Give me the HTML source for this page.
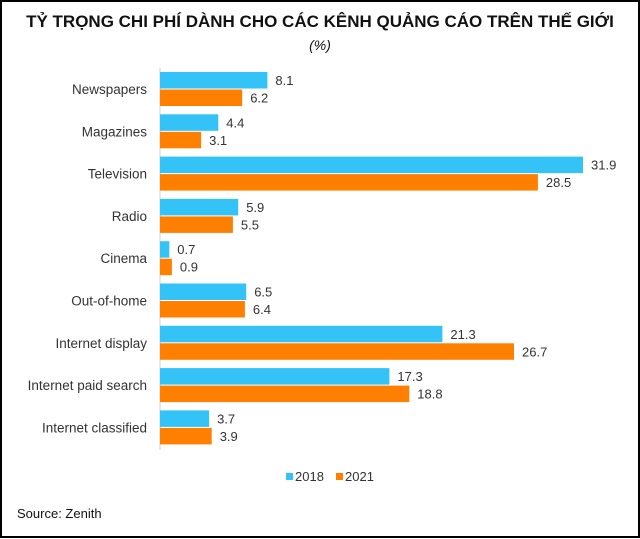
<!DOCTYPE html>
<html><head><meta charset="utf-8"><style>
body{margin:0;background:#fff}
svg{display:block}
text{font-family:"Liberation Sans",Arial,sans-serif}
</style></head><body>
<svg width="640" height="539" xmlns="http://www.w3.org/2000/svg">
<rect x="1" y="1" width="638" height="536" fill="#fff" stroke="#000" stroke-width="2"/>
<text x="320" y="27" text-anchor="middle" font-size="17" font-weight="bold" fill="#111">TỶ TRỌNG CHI PHÍ DÀNH CHO CÁC KÊNH QUẢNG CÁO TRÊN THẾ GIỚI</text>
<text x="320" y="50" text-anchor="middle" font-size="14" font-style="italic" fill="#111">(%)</text>
<line x1="160" y1="68" x2="160" y2="450" stroke="#d0d0d0" stroke-width="1"/>
<g fill="#33c3f6">
<rect x="160" y="72" width="107.4" height="16.5"/>
<rect x="160" y="114.3" width="58.3" height="16.5"/>
<rect x="160" y="156.6" width="423" height="16.5"/>
<rect x="160" y="198.9" width="78.2" height="16.5"/>
<rect x="160" y="241.2" width="9.3" height="16.5"/>
<rect x="160" y="283.5" width="86.2" height="16.5"/>
<rect x="160" y="325.8" width="282.4" height="16.5"/>
<rect x="160" y="368.1" width="229.4" height="16.5"/>
<rect x="160" y="410.4" width="49.1" height="16.5"/>
</g>
<g fill="#ff8000">
<rect x="160" y="89.5" width="82.2" height="16.5"/>
<rect x="160" y="131.8" width="41.1" height="16.5"/>
<rect x="160" y="174.1" width="377.9" height="16.5"/>
<rect x="160" y="216.4" width="72.9" height="16.5"/>
<rect x="160" y="258.7" width="11.9" height="16.5"/>
<rect x="160" y="301" width="84.9" height="16.5"/>
<rect x="160" y="343.3" width="354" height="16.5"/>
<rect x="160" y="385.6" width="249.3" height="16.5"/>
<rect x="160" y="427.9" width="51.7" height="16.5"/>
</g>
<g font-size="13" fill="#333">
<text x="275.4" y="85">8.1</text><text x="250.2" y="102.5">6.2</text>
<text x="226.3" y="127.3">4.4</text><text x="209.1" y="144.8">3.1</text>
<text x="591" y="169.6">31.9</text><text x="545.9" y="187.1">28.5</text>
<text x="246.2" y="211.9">5.9</text><text x="240.9" y="229.4">5.5</text>
<text x="177.3" y="254.2">0.7</text><text x="179.9" y="271.7">0.9</text>
<text x="254.2" y="296.5">6.5</text><text x="252.9" y="314">6.4</text>
<text x="450.4" y="338.8">21.3</text><text x="522" y="356.3">26.7</text>
<text x="397.4" y="381.1">17.3</text><text x="417.3" y="398.6">18.8</text>
<text x="217.1" y="423.4">3.7</text><text x="219.7" y="440.9">3.9</text>
</g>
<g font-size="13.5" fill="#333" text-anchor="end">
<text x="147" y="94">Newspapers</text>
<text x="147" y="136.3">Magazines</text>
<text x="147" y="178.6">Television</text>
<text x="147" y="220.9">Radio</text>
<text x="147" y="263.2">Cinema</text>
<text x="147" y="305.5">Out-of-home</text>
<text x="147" y="347.8">Internet display</text>
<text x="147" y="390.1">Internet paid search</text>
<text x="147" y="432.4">Internet classified</text>
</g>
<rect x="286" y="473" width="7" height="7" fill="#33c3f6"/>
<text x="295" y="481" font-size="13" fill="#333">2018</text>
<rect x="336" y="473" width="7" height="7" fill="#ff8000"/>
<text x="345" y="481" font-size="13" fill="#333">2021</text>
<text x="17" y="518" font-size="13" fill="#111">Source: Zenith</text>
</svg>
</body></html>
